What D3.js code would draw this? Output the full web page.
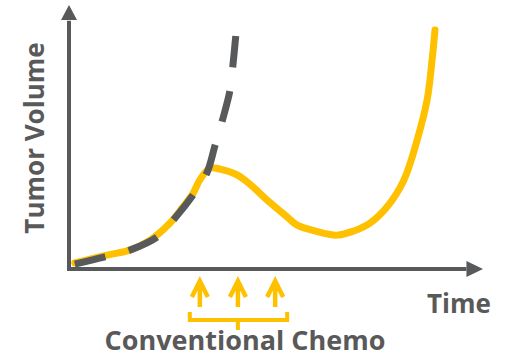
<!DOCTYPE html>
<html>
<head>
<meta charset="utf-8">
<script src="https://cdn.jsdelivr.net/npm/d3@7"></script>
<style>
  body { margin: 0; background: #fff; }
  .lbl { font-family: "Open Sans", Lato, sans-serif; font-weight: bold; fill: #595959; }
</style>
</head>
<body>
<div id="chart"></div>
<script>
// SVG size
var svgWidth = 508;
var svgHeight = 357;

// tumor response with chemo (time, volume in arbitrary units 0-100)
var chemoTime = [1.4, 9.2, 14.7, 19.6, 24.4, 27.5, 30.0, 31.6, 34.1, 36.5, 40.6, 44.2, 47.8, 52.7, 55.1, 59.4, 64.7, 68.8, 72.7, 76.8, 80.9, 84.1, 86.5, 87.7, 88.4];
var chemoVolume = [1.9, 4.9, 6.8, 10.6, 17.1, 23.2, 28.5, 33.5, 38.0, 37.6, 35.4, 31.2, 25.9, 19.4, 16.3, 14.1, 12.5, 14.1, 17.1, 23.2, 33.5, 48.7, 63.9, 79.1, 90.5];

// untreated growth (dashed)
var untreatedTime = [1.4, 8.7, 14.7, 21.3, 25.6, 30.0, 33.3, 35.3, 37.2, 38.9, 39.6, 40.3];
var untreatedVolume = [1.5, 4.2, 6.8, 11.8, 19.0, 27.8, 36.1, 46.8, 57.0, 67.7, 77.2, 88.6];

// chemo doses
var doseTimes = [31.6, 40.8, 49.8];

var axisColor = "#58595b";
var yellow = "#ffc000";

var svg = d3.select("#chart")
  .append("svg")
  .attr("width", svgWidth)
  .attr("height", svgHeight);

var x = d3.scaleLinear().domain([0, 100]).range([69, 483]);
var y = d3.scaleLinear().domain([0, 100]).range([268, 5]);

// axes with arrow heads
svg.append("line")
  .attr("x1", x(0)).attr("y1", y(0) + 2)
  .attr("x2", x(0)).attr("y2", y(94))
  .attr("stroke", axisColor).attr("stroke-width", 4);
svg.append("path")
  .attr("d", `M${x(0)},${y(100)} L${x(0) + 8},${y(94.3)} L${x(0) - 8},${y(94.3)} Z`)
  .attr("fill", axisColor);

svg.append("line")
  .attr("x1", x(0) - 2).attr("y1", y(0) + 1)
  .attr("x2", x(96)).attr("y2", y(0) + 1)
  .attr("stroke", axisColor).attr("stroke-width", 4);
svg.append("path")
  .attr("d", `M${x(100)},${y(0) + 1} L${x(96)},${y(0) + 1 - 8} L${x(96)},${y(0) + 1 + 8} Z`)
  .attr("fill", axisColor);

var line = d3.line()
  .x(d => x(d[0]))
  .y(d => y(d[1]))
  .curve(d3.curveCatmullRom.alpha(0.5));

svg.append("path")
  .datum(d3.zip(chemoTime, chemoVolume))
  .attr("d", line)
  .attr("fill", "none")
  .attr("stroke", yellow)
  .attr("stroke-width", 7)
  .attr("stroke-linecap", "round")
  .attr("stroke-linejoin", "round");

var dashed = svg.append("path")
  .datum(d3.zip(untreatedTime, untreatedVolume))
  .attr("d", line)
  .attr("fill", "none")
  .attr("stroke", axisColor)
  .attr("stroke-width", 7);

// stretch dash pattern so it starts and ends on a dash
var len = dashed.node().getTotalLength();
var dash = 30, gap = 23;
var n = Math.round((len + gap) / (dash + gap));
var k = (len + gap) / (n * (dash + gap));
dashed.attr("stroke-dasharray", `${dash * k},${gap * k}`);

// dose arrows
svg.selectAll(".dose")
  .data(doseTimes)
  .enter()
  .append("path")
  .attr("class", "dose")
  .attr("d", d => `M${x(d)},307 L${x(d)},281 M${x(d) - 8},297 L${x(d)},281 L${x(d) + 8},297`)
  .attr("fill", "none")
  .attr("stroke", yellow)
  .attr("stroke-width", 4.5);

// bracket under arrows
var bx0 = x(doseTimes[0]) - 10, bx1 = x(doseTimes[2]) + 12, bmid = x(doseTimes[1]);
svg.append("path")
  .attr("d", `M${bx0},312 L${bx0},320 L${bx1},320 L${bx1},312 M${bmid},320 L${bmid},330`)
  .attr("fill", "none")
  .attr("stroke", yellow)
  .attr("stroke-width", 4);

// labels
svg.append("text")
  .attr("class", "lbl")
  .attr("transform", "translate(44, 138) rotate(-90)")
  .attr("text-anchor", "middle")
  .style("font-size", "26px")
  .text("Tumor Volume");

svg.append("text")
  .attr("class", "lbl")
  .attr("x", 459).attr("y", 313)
  .attr("text-anchor", "middle")
  .style("font-size", "26px")
  .text("Time");

svg.append("text")
  .attr("class", "lbl")
  .attr("x", 245).attr("y", 350)
  .attr("text-anchor", "middle")
  .style("font-size", "27px")
  .text("Conventional Chemo");
</script>
</body>
</html>
